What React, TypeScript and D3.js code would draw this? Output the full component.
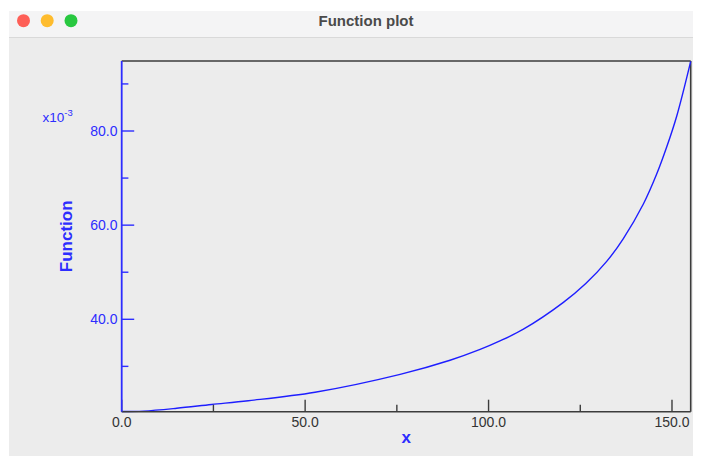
import React from "react";
import * as d3 from "d3";

const xValues = [0, 6, 15, 24.5, 34.5, 52.7, 75.9, 89.5, 97.7, 103.1, 109.5, 120.4, 126.5, 132.2, 136.7, 142.2, 145.8, 148.6, 151.3, 155.1];
const yValues = [20.4, 20.5, 21.1, 21.9, 22.7, 24.5, 28.3, 31.3, 33.6, 35.4, 37.9, 43.6, 47.6, 52.3, 57.1, 64.5, 70.8, 76.7, 83.2, 94.8];

const xMajorTicks = [0, 50, 100, 150];
const xMinorTicks = [25, 75, 125];
const yMajorTicks = [40, 60, 80];
const yMinorTicks = [30, 50, 70, 90];

const W = 701;
const H = 458;
const plot = { left: 121.7, right: 690.7, top: 61, bottom: 411.7 };
const BLUE = "#2d2dff";
const LINE_BLUE = "#1e1eff";
const GRAY = "#3c3c3c";
const FONT = "'Liberation Sans', Arial, Helvetica, sans-serif";

export default function App() {
  const x = d3.scaleLinear().domain([0, 155.1]).range([plot.left, plot.right]);
  const y = d3.scaleLinear().domain([20.37, 94.87]).range([plot.bottom, plot.top]);
  const fmt = d3.format(".1f");
  const pts = xValues.map((v, i) => [v, yValues[i]] as [number, number]);
  const line = d3
    .line<[number, number]>()
    .x((d) => x(d[0]))
    .y((d) => y(d[1]))
    .curve(d3.curveCatmullRom.alpha(0.5));

  return (
    <div style={{ position: "fixed", left: 0, top: 0, width: W, height: H, background: "#fff" }}>
      <svg width={W} height={H} style={{ display: "block" }}>
        <rect x={0} y={0} width={W} height={H} fill="#ffffff" />
        {/* window */}
        <rect x={9} y={11} width={684} height={445} fill="#ececec" />
        <rect x={9} y={11} width={684} height={26} fill="#f4f4f5" />
        <line x1={9} x2={693} y1={37.5} y2={37.5} stroke="#d9d9d9" strokeWidth={1} />
        <circle cx={23.5} cy={20.7} r={6.5} fill="#fe5f57" />
        <circle cx={47.2} cy={20.7} r={6.5} fill="#febc2e" />
        <circle cx={71} cy={20.7} r={6.5} fill="#28c840" />
        <text x={366} y={26} textAnchor="middle" fontFamily={FONT} fontWeight="bold" fontSize={15} fill="#4a4a4a">
          Function plot
        </text>

        {/* plot frame */}
        <line x1={plot.left} x2={plot.right} y1={plot.top} y2={plot.top} stroke={GRAY} strokeWidth={1.6} />
        <line x1={plot.right} x2={plot.right} y1={plot.top} y2={plot.bottom} stroke={GRAY} strokeWidth={1.6} />

        {/* curve */}
        <path d={line(pts) || ""} fill="none" stroke={LINE_BLUE} strokeWidth={1.4} />

        {/* x axis */}
        <line x1={plot.left} x2={plot.right} y1={plot.bottom} y2={plot.bottom} stroke={GRAY} strokeWidth={1.6} />
        {xMajorTicks.map((t) => (
          <g key={"xm" + t}>
            <line x1={x(t)} x2={x(t)} y1={plot.bottom} y2={plot.bottom - 12} stroke={GRAY} strokeWidth={1.4} />
            <text x={x(t)} y={427.3} textAnchor="middle" fontFamily={FONT} fontSize={14} fill="#333">
              {fmt(t)}
            </text>
          </g>
        ))}
        {xMinorTicks.map((t) => (
          <line key={"xn" + t} x1={x(t)} x2={x(t)} y1={plot.bottom} y2={plot.bottom - 7} stroke={GRAY} strokeWidth={1.4} />
        ))}
        <text x={406.2} y={443.3} textAnchor="middle" fontFamily={FONT} fontWeight="bold" fontSize={17} fill={BLUE}>
          x
        </text>

        {/* y axis */}
        <line x1={plot.left} x2={plot.left} y1={plot.top} y2={plot.bottom} stroke={BLUE} strokeWidth={1.8} />
        {yMajorTicks.map((t) => (
          <g key={"ym" + t}>
            <line x1={plot.left} x2={plot.left + 12.5} y1={y(t)} y2={y(t)} stroke={BLUE} strokeWidth={1.4} />
            <text x={117.5} y={y(t) + 5} textAnchor="end" fontFamily={FONT} fontSize={14} fill={BLUE}>
              {fmt(t)}
            </text>
          </g>
        ))}
        {yMinorTicks.map((t) => (
          <line key={"yn" + t} x1={plot.left} x2={plot.left + 6.7} y1={y(t)} y2={y(t)} stroke={BLUE} strokeWidth={1.4} />
        ))}
        <text x={42.5} y={121.7} fontFamily={FONT} fontSize={13.5} fill={BLUE}>
          x10
          <tspan dy={-6} fontSize={9.5}>-3</tspan>
        </text>
        <text
          transform={`translate(72.3, ${(plot.top + plot.bottom) / 2}) rotate(-90)`}
          textAnchor="middle"
          fontFamily={FONT}
          fontWeight="bold"
          fontSize={17}
          fill={BLUE}
        >
          Function
        </text>
      </svg>
    </div>
  );
}
